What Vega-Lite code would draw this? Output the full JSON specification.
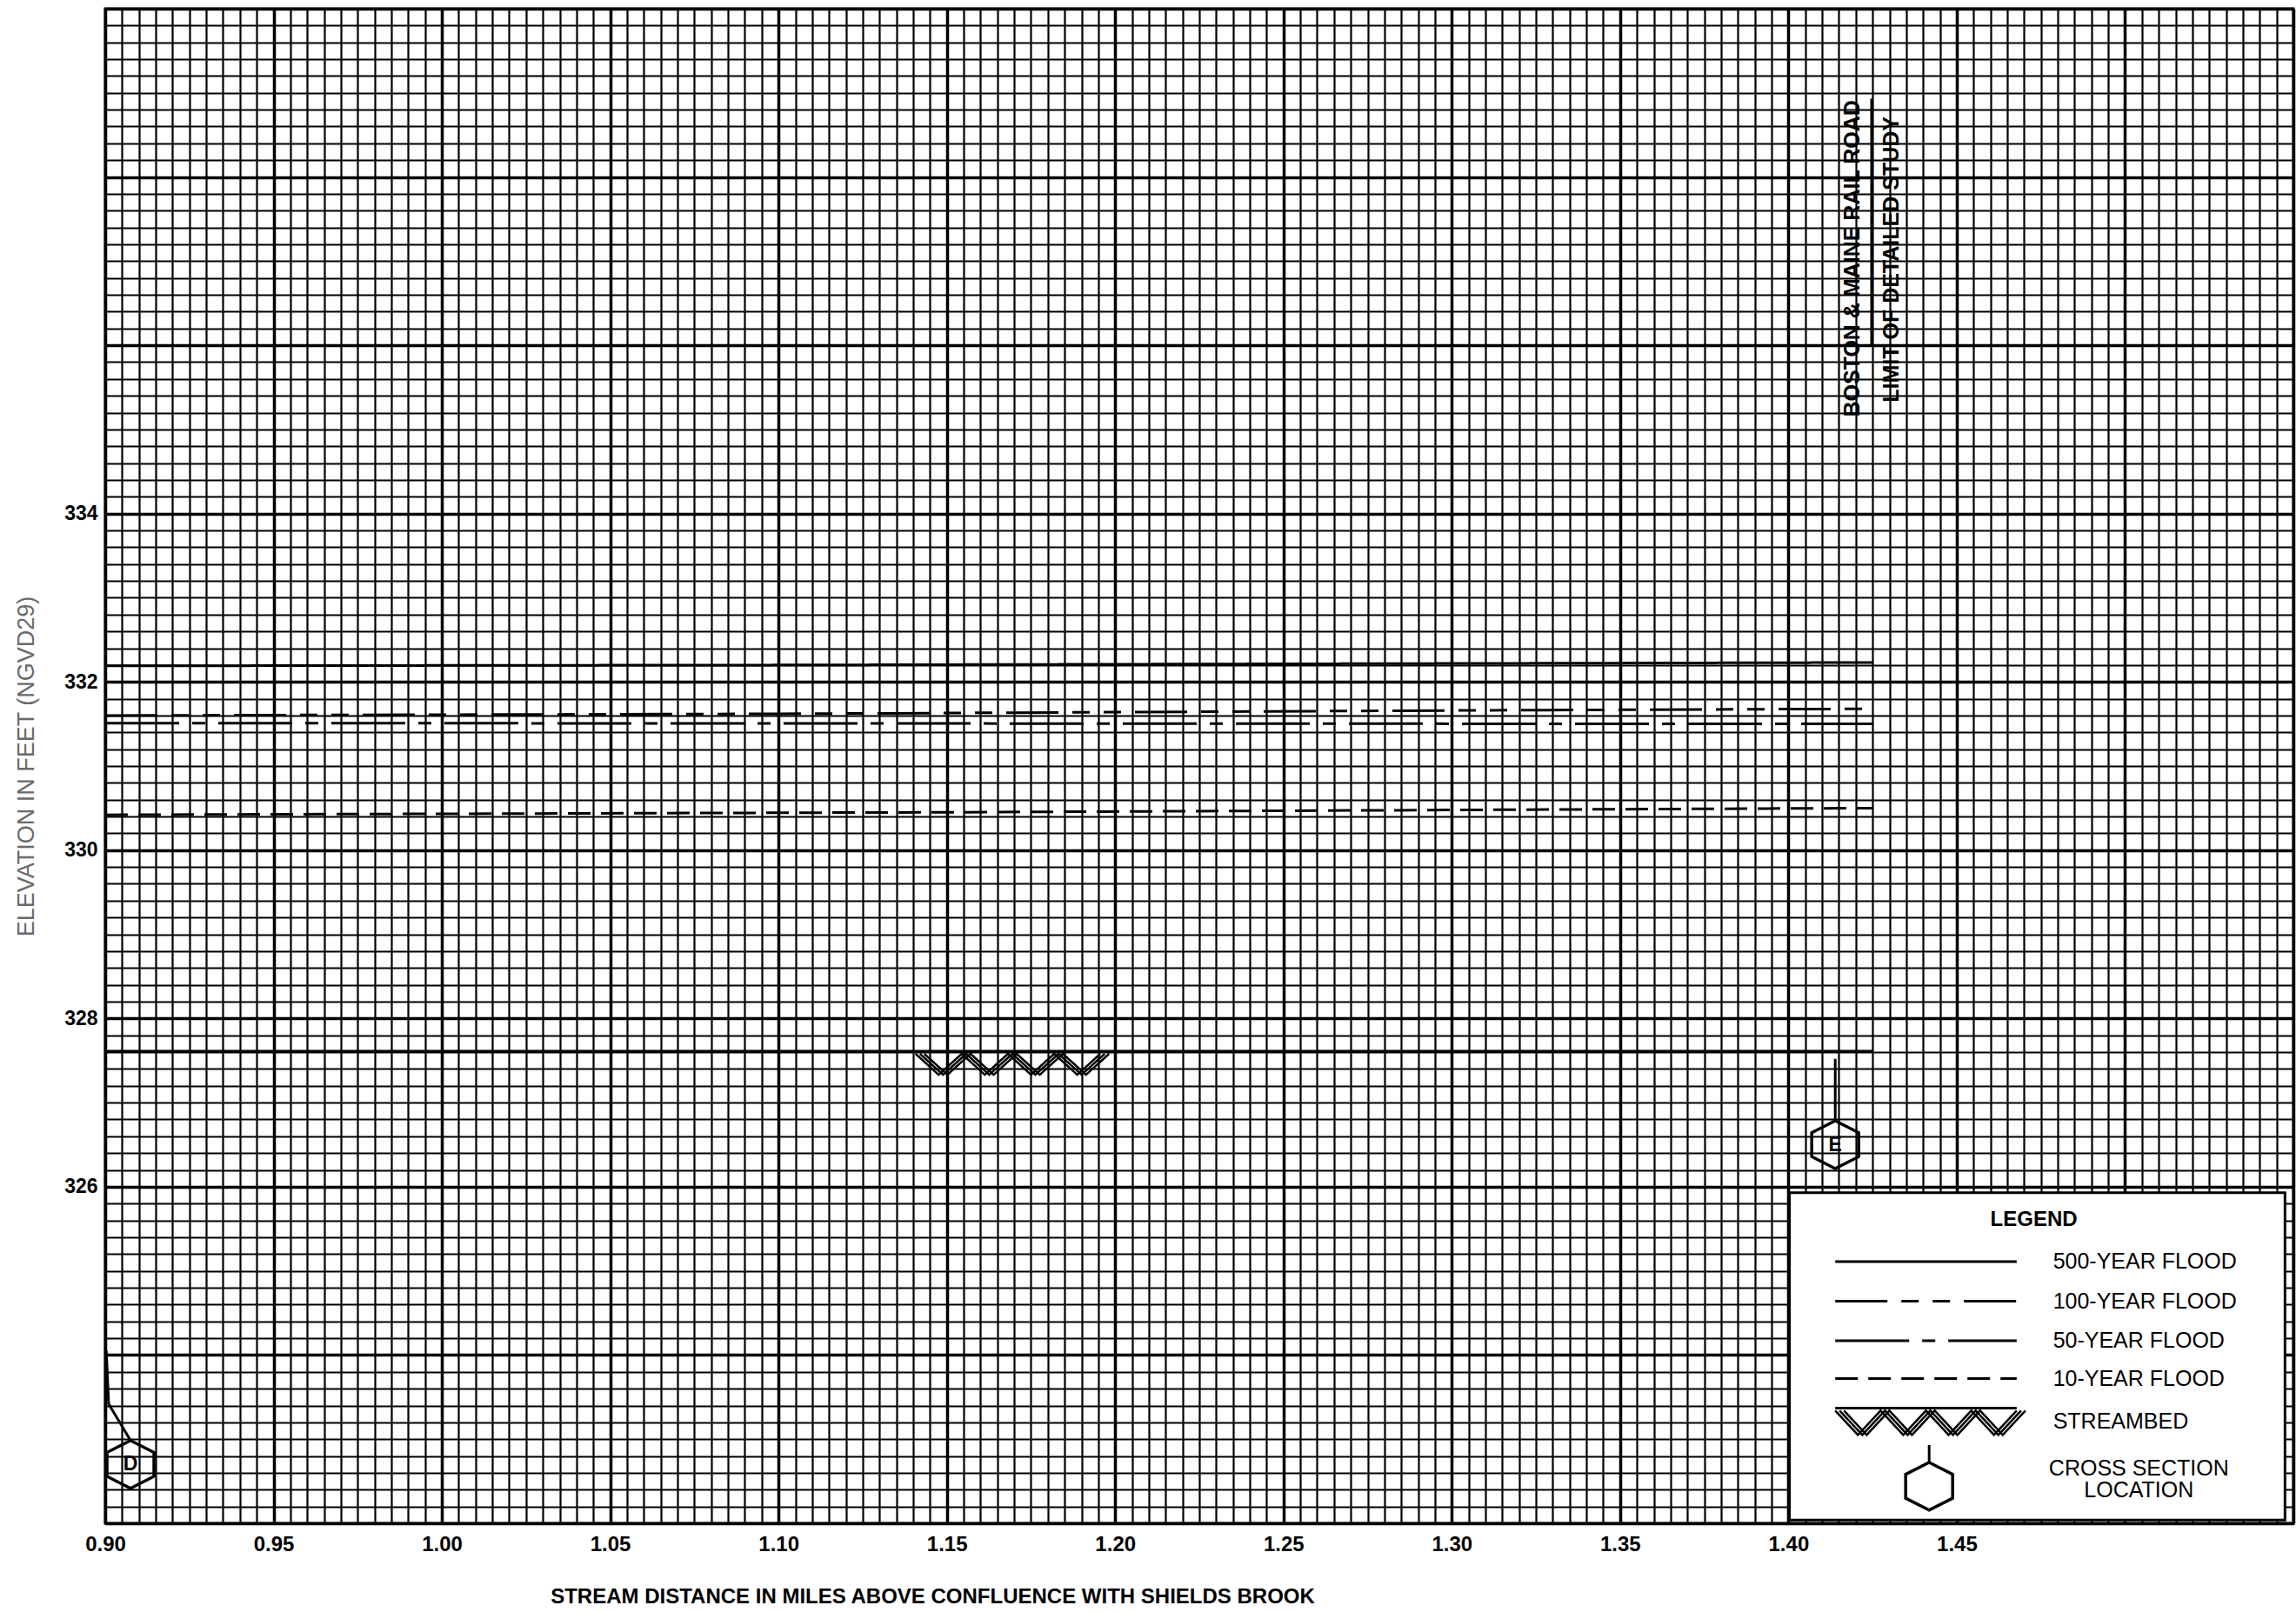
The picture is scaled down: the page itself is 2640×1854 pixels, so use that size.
{
  "$schema": "https://vega.github.io/schema/vega-lite/v6.json",
  "width": 2516,
  "height": 1742,
  "autosize": {"type": "none"},
  "padding": {"left": 121, "top": 10, "right": 3, "bottom": 102},
  "background": "white",
  "config": {"view": {"stroke": "black", "strokeWidth": 3}, "font": "Liberation Sans"},
  "datasets": {
    "floods": [
      {"flood": "500", "mi": 0.9, "ft": 332.19}, {"flood": "500", "mi": 1.1, "ft": 332.2}, {"flood": "500", "mi": 1.425, "ft": 332.23},
      {"flood": "100", "mi": 0.9, "ft": 331.6}, {"flood": "100", "mi": 1.1, "ft": 331.62}, {"flood": "100", "mi": 1.3, "ft": 331.66}, {"flood": "100", "mi": 1.425, "ft": 331.68},
      {"flood": "50", "mi": 0.9, "ft": 331.51}, {"flood": "50", "mi": 1.425, "ft": 331.5},
      {"flood": "10", "mi": 0.9, "ft": 330.42}, {"flood": "10", "mi": 1.15, "ft": 330.45}, {"flood": "10", "mi": 1.425, "ft": 330.5},
      {"flood": "bed", "mi": 0.9, "ft": 327.61}, {"flood": "bed", "mi": 1.425, "ft": 327.61}
    ],
    "legendLines": [
      {"flood": "500", "mi": 1.4139, "mi2": 1.4678, "ft": 325.11},
      {"flood": "100", "mi": 1.4139, "mi2": 1.4678, "ft": 324.64},
      {"flood": "50", "mi": 1.4139, "mi2": 1.4678, "ft": 324.17},
      {"flood": "10", "mi": 1.4139, "mi2": 1.4678, "ft": 323.72},
      {"flood": "bed", "mi": 1.4139, "mi2": 1.4678, "ft": 323.37}
    ],
    "box": [{"mi": 1.4003, "mi2": 1.5475, "ft": 322.04, "ft2": 325.93}],
    "zig": [
      {"g": "pA", "mi": 1.1407, "ft": 327.58}, {"g": "pA", "mi": 1.14756, "ft": 327.33}, {"g": "pA", "mi": 1.15443, "ft": 327.58}, {"g": "pA", "mi": 1.16129, "ft": 327.33}, {"g": "pA", "mi": 1.16815, "ft": 327.58}, {"g": "pA", "mi": 1.17501, "ft": 327.33}, {"g": "pA", "mi": 1.18188, "ft": 327.58}, {"g": "pA", "mi": 1.18874, "ft": 327.33}, {"g": "pA", "mi": 1.1956, "ft": 327.58},
      {"g": "pB", "mi": 1.1420, "ft": 327.58}, {"g": "pB", "mi": 1.14886, "ft": 327.33}, {"g": "pB", "mi": 1.15573, "ft": 327.58}, {"g": "pB", "mi": 1.16259, "ft": 327.33}, {"g": "pB", "mi": 1.16945, "ft": 327.58}, {"g": "pB", "mi": 1.17631, "ft": 327.33}, {"g": "pB", "mi": 1.18318, "ft": 327.58}, {"g": "pB", "mi": 1.19004, "ft": 327.33}, {"g": "pB", "mi": 1.1969, "ft": 327.58},
      {"g": "pC", "mi": 1.1433, "ft": 327.58}, {"g": "pC", "mi": 1.15016, "ft": 327.33}, {"g": "pC", "mi": 1.15703, "ft": 327.58}, {"g": "pC", "mi": 1.16389, "ft": 327.33}, {"g": "pC", "mi": 1.17075, "ft": 327.58}, {"g": "pC", "mi": 1.17761, "ft": 327.33}, {"g": "pC", "mi": 1.18448, "ft": 327.58}, {"g": "pC", "mi": 1.19134, "ft": 327.33}, {"g": "pC", "mi": 1.1982, "ft": 327.58},
      {"g": "lA", "mi": 1.4139, "ft": 323.34}, {"g": "lA", "mi": 1.42064, "ft": 323.05}, {"g": "lA", "mi": 1.42738, "ft": 323.34}, {"g": "lA", "mi": 1.43411, "ft": 323.05}, {"g": "lA", "mi": 1.44085, "ft": 323.34}, {"g": "lA", "mi": 1.44759, "ft": 323.05}, {"g": "lA", "mi": 1.45433, "ft": 323.34}, {"g": "lA", "mi": 1.46106, "ft": 323.05}, {"g": "lA", "mi": 1.4678, "ft": 323.34},
      {"g": "lB", "mi": 1.4152, "ft": 323.34}, {"g": "lB", "mi": 1.42194, "ft": 323.05}, {"g": "lB", "mi": 1.42868, "ft": 323.34}, {"g": "lB", "mi": 1.43541, "ft": 323.05}, {"g": "lB", "mi": 1.44215, "ft": 323.34}, {"g": "lB", "mi": 1.44889, "ft": 323.05}, {"g": "lB", "mi": 1.45563, "ft": 323.34}, {"g": "lB", "mi": 1.46236, "ft": 323.05}, {"g": "lB", "mi": 1.4691, "ft": 323.34},
      {"g": "lC", "mi": 1.4165, "ft": 323.34}, {"g": "lC", "mi": 1.42324, "ft": 323.05}, {"g": "lC", "mi": 1.42998, "ft": 323.34}, {"g": "lC", "mi": 1.43671, "ft": 323.05}, {"g": "lC", "mi": 1.44345, "ft": 323.34}, {"g": "lC", "mi": 1.45019, "ft": 323.05}, {"g": "lC", "mi": 1.45693, "ft": 323.34}, {"g": "lC", "mi": 1.46366, "ft": 323.05}, {"g": "lC", "mi": 1.4704, "ft": 323.34}
    ],
    "vrules": [
      {"mi": 1.4139, "ft": 327.52, "ft2": 326.78},
      {"mi": 1.4418, "ft": 322.93, "ft2": 322.72},
      {"mi": 1.4247, "ft": 338.93, "ft2": 336.0}
    ],
    "dstem": [
      {"mi": 0.9003, "ft": 324.05}, {"mi": 0.9006, "ft": 323.8}, {"mi": 0.901, "ft": 323.42}, {"mi": 0.9076, "ft": 322.98}
    ],
    "hexes": [
      {"id": "D", "mi": 0.9075, "ft": 322.7},
      {"id": "E", "mi": 1.4139, "ft": 326.5},
      {"id": "", "mi": 1.4418, "ft": 322.44}
    ],
    "legendTitle": [{"label": "LEGEND", "mi": 1.4729, "ft": 325.61}],
    "legendLabels": [
      {"label": "500-YEAR FLOOD", "mi": 1.4786, "ft": 325.11},
      {"label": "100-YEAR FLOOD", "mi": 1.4786, "ft": 324.64},
      {"label": "50-YEAR FLOOD", "mi": 1.4786, "ft": 324.17},
      {"label": "10-YEAR FLOOD", "mi": 1.4786, "ft": 323.72},
      {"label": "STREAMBED", "mi": 1.4786, "ft": 323.21}
    ],
    "legendCenter": [
      {"label": "CROSS SECTION", "mi": 1.5041, "ft": 322.65},
      {"label": "LOCATION", "mi": 1.5041, "ft": 322.39}
    ],
    "rail": [
      {"label": "BOSTON & MAINE RAIL ROAD", "mi": 1.4191, "ft": 337.03},
      {"label": "LIMIT OF DETAILED STUDY", "mi": 1.4307, "ft": 337.02}
    ]
  },
  "encoding": {
    "x": {
      "field": "mi", "type": "quantitative",
      "scale": {"domain": [0.9, 1.55], "nice": false, "zero": false},
      "axis": {
        "values": [0.9,0.905,0.91,0.915,0.92,0.925,0.93,0.935,0.94,0.945,0.95,0.955,0.96,0.965,0.97,0.975,0.98,0.985,0.99,0.995,1,1.005,1.01,1.015,1.02,1.025,1.03,1.035,1.04,1.045,1.05,1.055,1.06,1.065,1.07,1.075,1.08,1.085,1.09,1.095,1.1,1.105,1.11,1.115,1.12,1.125,1.13,1.135,1.14,1.145,1.15,1.155,1.16,1.165,1.17,1.175,1.18,1.185,1.19,1.195,1.2,1.205,1.21,1.215,1.22,1.225,1.23,1.235,1.24,1.245,1.25,1.255,1.26,1.265,1.27,1.275,1.28,1.285,1.29,1.295,1.3,1.305,1.31,1.315,1.32,1.325,1.33,1.335,1.34,1.345,1.35,1.355,1.36,1.365,1.37,1.375,1.38,1.385,1.39,1.395,1.4,1.405,1.41,1.415,1.42,1.425,1.43,1.435,1.44,1.445,1.45,1.455,1.46,1.465,1.47,1.475,1.48,1.485,1.49,1.495,1.5,1.505,1.51,1.515,1.52,1.525,1.53,1.535,1.54,1.545,1.55],
        "grid": true, "gridColor": "black", "gridOpacity": 1,
        "gridWidth": {"condition": {"test": "abs(datum.value*20 - round(datum.value*20)) < 0.01", "value": 3.5}, "value": 2.2},
        "ticks": false, "tickSize": 0,
        "domain": true, "domainColor": "black", "domainWidth": 3,
        "labelExpr": "abs(datum.value*20 - round(datum.value*20)) < 0.01 && datum.value < 1.47 ? format(datum.value, '.2f') : ''",
        "labelFont": "Liberation Sans", "labelFontSize": 24, "labelFontWeight": "bold", "labelColor": "black",
        "labelPadding": 12, "labelOverlap": false, "labelFlush": false, "labelBound": false, "labelBaseline": "top",
        "title": "STREAM DISTANCE IN MILES ABOVE CONFLUENCE WITH SHIELDS BROOK",
        "titleFont": "Liberation Sans", "titleFontSize": 24, "titleFontWeight": "bold", "titleColor": "black",
        "titleX": 951, "titleY": 91, "titleAlign": "center", "titleBaseline": "alphabetic", "titleAnchor": "start"
      }
    },
    "y": {
      "field": "ft", "type": "quantitative",
      "scale": {"domain": [322, 340], "nice": false, "zero": false},
      "axis": {
        "values": [322,322.2,322.4,322.6,322.8,323,323.2,323.4,323.6,323.8,324,324.2,324.4,324.6,324.8,325,325.2,325.4,325.6,325.8,326,326.2,326.4,326.6,326.8,327,327.2,327.4,327.6,327.8,328,328.2,328.4,328.6,328.8,329,329.2,329.4,329.6,329.8,330,330.2,330.4,330.6,330.8,331,331.2,331.4,331.6,331.8,332,332.2,332.4,332.6,332.8,333,333.2,333.4,333.6,333.8,334,334.2,334.4,334.6,334.8,335,335.2,335.4,335.6,335.8,336,336.2,336.4,336.6,336.8,337,337.2,337.4,337.6,337.8,338,338.2,338.4,338.6,338.8,339,339.2,339.4,339.6,339.8,340],
        "grid": true, "gridColor": "black", "gridOpacity": 1,
        "gridWidth": {"condition": {"test": "abs(datum.value/2 - round(datum.value/2)) < 0.01", "value": 3.5}, "value": 2.2},
        "ticks": false, "tickSize": 0,
        "domain": true, "domainColor": "black", "domainWidth": 3,
        "labelExpr": "abs(datum.value/2 - round(datum.value/2)) < 0.01 && datum.value > 325 && datum.value < 335 ? format(datum.value, 'd') : ''",
        "labelFont": "Liberation Sans", "labelFontSize": 23, "labelFontWeight": "bold", "labelColor": "black",
        "labelPadding": 9, "labelOverlap": false, "labelFlush": false, "labelBound": false, "labelBaseline": "middle", "labelAlign": "right",
        "title": "ELEVATION  IN  FEET  (NGVD29)",
        "titleFont": "Liberation Sans", "titleFontSize": 27, "titleFontWeight": "normal", "titleColor": "#6a6a6a",
        "titleX": -91, "titleY": 871, "titleAngle": -90, "titleAlign": "center", "titleBaseline": "middle", "titleAnchor": "start"
      }
    }
  },
  "layer": [
    {
      "data": {"name": "box"},
      "mark": {"type": "rect", "fill": "white", "stroke": "black", "strokeWidth": 3},
      "encoding": {"x2": {"field": "mi2"}, "y2": {"field": "ft2"}}
    },
    {
      "data": {"name": "floods"},
      "mark": {"type": "line", "color": "black", "strokeWidth": 3},
      "encoding": {
        "strokeDash": {"field": "flood", "type": "nominal", "legend": null,
          "scale": {"domain": ["500", "100", "50", "10", "bed"], "range": [[1, 0], [60, 16, 20, 16, 20, 16], [85, 15, 15, 15], [26, 12], [1, 0]]}}
      }
    },
    {
      "data": {"name": "legendLines"},
      "mark": {"type": "rule", "color": "black", "strokeWidth": 3},
      "encoding": {
        "x2": {"field": "mi2"},
        "strokeDash": {"field": "flood", "type": "nominal", "legend": null,
          "scale": {"domain": ["500", "100", "50", "10", "bed"], "range": [[1, 0], [60, 16, 20, 16, 20, 16], [85, 15, 15, 15], [26, 12], [1, 0]]}}
      }
    },
    {
      "data": {"name": "zig"},
      "mark": {"type": "line", "color": "black", "strokeWidth": 2.5},
      "encoding": {"detail": {"field": "g", "type": "nominal"}}
    },
    {
      "data": {"name": "vrules"},
      "mark": {"type": "rule", "color": "black", "strokeWidth": 3},
      "encoding": {"y2": {"field": "ft2"}}
    },
    {
      "data": {"name": "dstem"},
      "mark": {"type": "line", "color": "black", "strokeWidth": 3},
      "encoding": {}
    },
    {
      "data": {"name": "hexes"},
      "mark": {"type": "point", "shape": "M0,-0.88L0.866,-0.44L0.866,0.44L0,0.88L-0.866,0.44L-0.866,-0.44Z", "size": 3890, "filled": false, "color": "black", "strokeWidth": 3.5, "opacity": 1}
    },
    {
      "data": {"name": "hexes"},
      "mark": {"type": "text", "font": "Liberation Sans", "fontSize": 23, "fontWeight": "bold", "color": "black", "align": "center", "baseline": "middle"},
      "encoding": {"text": {"field": "id"}}
    },
    {
      "data": {"name": "legendTitle"},
      "mark": {"type": "text", "font": "Liberation Sans", "fontSize": 24, "fontWeight": "bold", "color": "black", "align": "center", "baseline": "middle"},
      "encoding": {"text": {"field": "label"}}
    },
    {
      "data": {"name": "legendLabels"},
      "mark": {"type": "text", "font": "Liberation Sans", "fontSize": 25, "color": "black", "align": "left", "baseline": "middle"},
      "encoding": {"text": {"field": "label"}}
    },
    {
      "data": {"name": "legendCenter"},
      "mark": {"type": "text", "font": "Liberation Sans", "fontSize": 25, "color": "black", "align": "center", "baseline": "middle"},
      "encoding": {"text": {"field": "label"}}
    },
    {
      "data": {"name": "rail"},
      "mark": {"type": "text", "font": "Liberation Sans", "fontSize": 25, "fontWeight": "bold", "color": "black", "align": "center", "baseline": "middle", "angle": 270},
      "encoding": {"text": {"field": "label"}}
    }
  ]
}
